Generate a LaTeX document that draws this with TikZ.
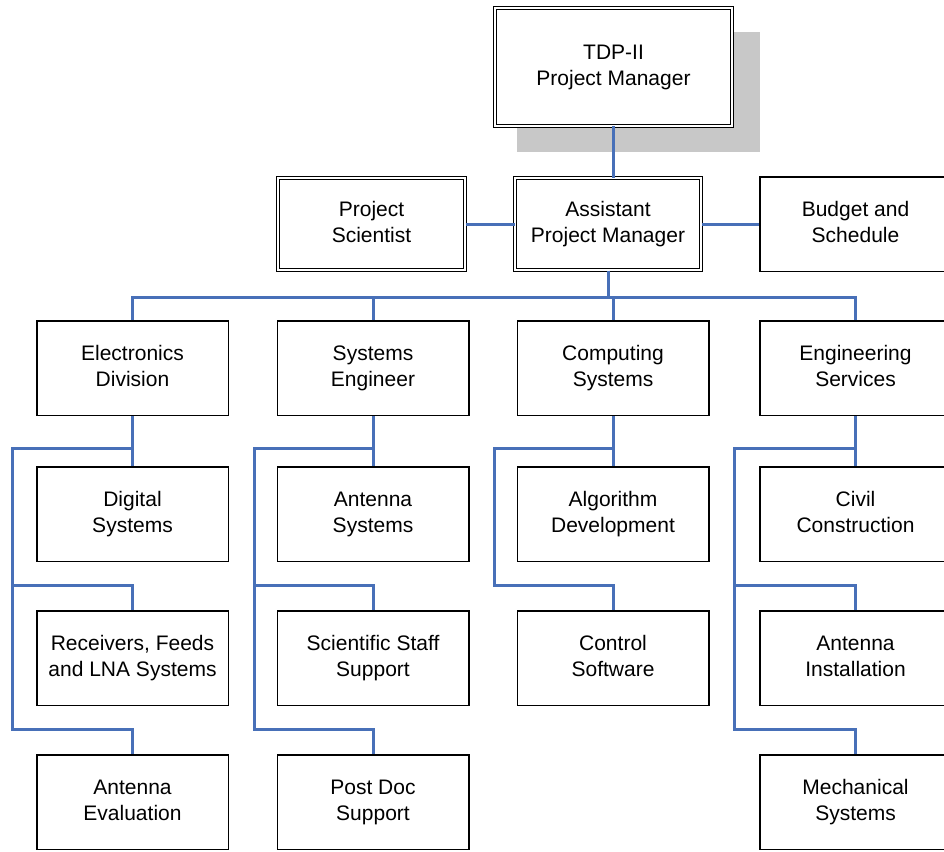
\documentclass[tikz,border=0pt]{standalone}
\usepackage{fontspec}
\setmainfont{Liberation Sans}
\definecolor{linkblue}{RGB}{72,112,184}
\definecolor{shadowgray}{RGB}{200,200,200}
% two struts keep every two-line label centred the same way
\newcommand{\twolines}[2]{\strut #1\\\strut #2}
\tikzset{
  unitbox/.style={draw=black, line width=1.5pt, fill=white, rectangle,
    minimum width=191.5pt, minimum height=94.5pt, inner sep=0pt,
    align=center, font=\fontsize{21}{26}\selectfont},
  dblbox/.style={draw=black, line width=1pt, double=white, double distance=2pt,
    rectangle, inner sep=0pt, align=center, font=\fontsize{21}{26}\selectfont},
  conn/.style={draw=linkblue, line width=3pt},
}
\begin{document}
\begin{tikzpicture}[x=1pt,y=-1pt]
\useasboundingbox (0,0) rectangle (944,851);
\fill[white] (0,0) rectangle (944,851);

% head of the project, with its drop shadow
\fill[shadowgray] (517,32) rectangle (760,152);
\node[dblbox, fill=white, minimum width=237pt, minimum height=117pt] (top) at (613.5,67) {\twolines{TDP-II}{Project Manager}};

% second tier
\node[dblbox, minimum width=187pt, minimum height=92pt] (ps) at (371.5,224) {\twolines{Project}{Scientist}};
\node[dblbox, minimum width=186pt, minimum height=92pt] (apm) at (608,224) {\twolines{Assistant}{Project Manager}};
\node[unitbox] (bud) at (855.5,224) {\twolines{Budget and}{Schedule}};

% divisions
\node[unitbox] (ed) at (132.5,368) {\twolines{Electronics}{Division}};
\node[unitbox] (se) at (373,368) {\twolines{Systems}{Engineer}};
\node[unitbox] (cs) at (613,368) {\twolines{Computing}{Systems}};
\node[unitbox] (es) at (855.5,368) {\twolines{Engineering}{Services}};

% groups under each division
\node[unitbox] (ds) at (132.5,514) {\twolines{Digital}{Systems}};
\node[unitbox] (rf) at (132.5,658) {\twolines{Receivers, Feeds}{and LNA Systems}};
\node[unitbox] (ae) at (132.5,802) {\twolines{Antenna}{Evaluation}};

\node[unitbox] (as) at (373,514) {\twolines{Antenna}{Systems}};
\node[unitbox] (ss) at (373,658) {\twolines{Scientific Staff}{Support}};
\node[unitbox] (pd) at (373,802) {\twolines{Post Doc}{Support}};

\node[unitbox] (ad) at (613,514) {\twolines{Algorithm}{Development}};
\node[unitbox] (sw) at (613,658) {\twolines{Control}{Software}};

\node[unitbox] (cc) at (855.5,514) {\twolines{Civil}{Construction}};
\node[unitbox] (ai) at (855.5,658) {\twolines{Antenna}{Installation}};
\node[unitbox] (ms) at (855.5,802) {\twolines{Mechanical}{Systems}};

% rail points of the branch lines
\coordinate (bus) at (0,297);
\coordinate (ya) at (0,448);
\coordinate (yb) at (0,585);
\coordinate (yc) at (0,729);
\coordinate (rail1) at (12,0);
\coordinate (rail2) at (254,0);
\coordinate (rail3) at (494,0);
\coordinate (rail4) at (734,0);

% upper links
\draw[conn] (top.south) -- (top.south |- apm.north);
\draw[conn] (ps.east) -- (apm.west);
\draw[conn] (apm.east) -- (bud.west);
\draw[conn] (apm.south) -- (apm.south |- bus);
\draw[conn] (ed.north) -- (ed.north |- bus) -- (es.north |- bus) -- (es.north);
\draw[conn] (se.north) -- (se.north |- bus);
\draw[conn] (cs.north) -- (cs.north |- bus);

% Electronics Division
\draw[conn] (ed.south) -- (ds.north);
\draw[conn] (ed.south |- ya) -- (rail1 |- ya) -- (rail1 |- yc) -- (ae.north |- yc) -- (ae.north);
\draw[conn] (rail1 |- yb) -- (rf.north |- yb) -- (rf.north);

% Systems Engineer
\draw[conn] (se.south) -- (as.north);
\draw[conn] (se.south |- ya) -- (rail2 |- ya) -- (rail2 |- yc) -- (pd.north |- yc) -- (pd.north);
\draw[conn] (rail2 |- yb) -- (ss.north |- yb) -- (ss.north);

% Computing Systems
\draw[conn] (cs.south) -- (ad.north);
\draw[conn] (cs.south |- ya) -- (rail3 |- ya) -- (rail3 |- yb) -- (sw.north |- yb) -- (sw.north);

% Engineering Services
\draw[conn] (es.south) -- (cc.north);
\draw[conn] (es.south |- ya) -- (rail4 |- ya) -- (rail4 |- yc) -- (ms.north |- yc) -- (ms.north);
\draw[conn] (rail4 |- yb) -- (ai.north |- yb) -- (ai.north);
\end{tikzpicture}
\end{document}
